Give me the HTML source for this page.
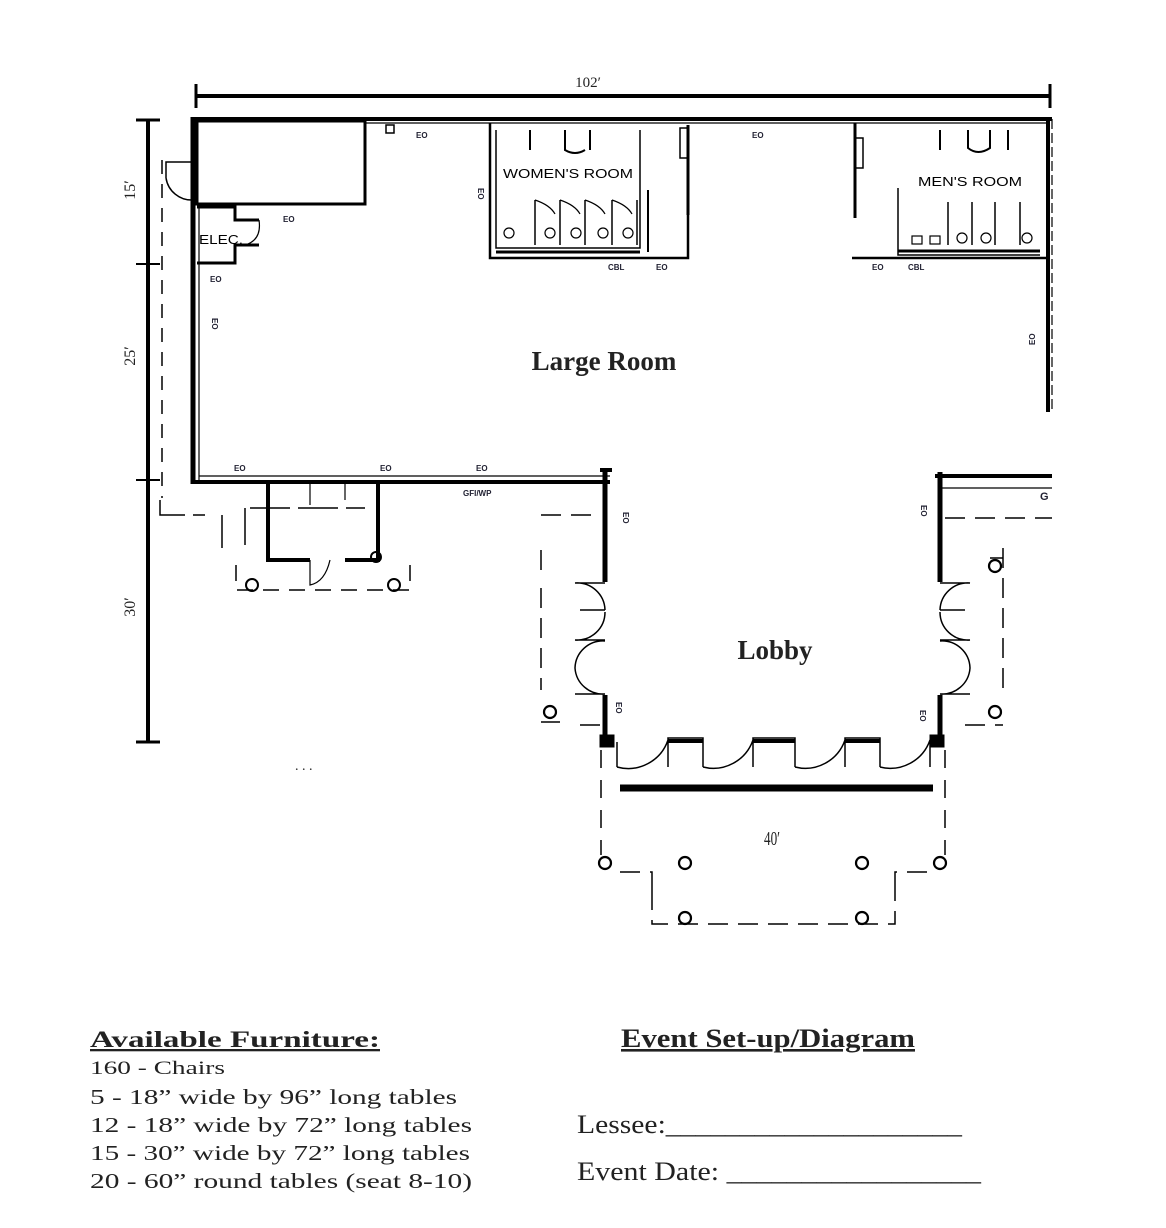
<!DOCTYPE html>
<html><head><meta charset="utf-8">
<style>
html,body{margin:0;padding:0;background:#fff;}
svg{display:block;}
.s{font-family:"Liberation Serif",serif;fill:#222;}
.l{font-family:"Liberation Sans",sans-serif;font-size:8px;font-weight:bold;fill:#223;}
.h{font-family:"Liberation Sans",sans-serif;font-size:13px;fill:#000;}
</style></head>
<body>
<svg width="1166" height="1228" viewBox="0 0 1166 1228" xmlns="http://www.w3.org/2000/svg">
<g stroke="#000" fill="none" stroke-linecap="butt">
<!-- top dimension -->
<line x1="196" y1="96" x2="1050" y2="96" stroke-width="4"/>
<line x1="196" y1="84" x2="196" y2="108" stroke-width="3"/>
<line x1="1050" y1="84" x2="1050" y2="108" stroke-width="3"/>
<!-- left dimension -->
<line x1="148" y1="120" x2="148" y2="742" stroke-width="4"/>
<line x1="136" y1="120" x2="160" y2="120" stroke-width="3"/>
<line x1="136" y1="264" x2="160" y2="264" stroke-width="2"/>
<line x1="136" y1="480" x2="160" y2="480" stroke-width="2"/>
<line x1="136" y1="742" x2="160" y2="742" stroke-width="3"/>
<line x1="162" y1="160" x2="162" y2="498" stroke-width="1.5" stroke-dasharray="14,10"/>
<!-- outer walls -->
<line x1="193" y1="119" x2="1052" y2="119" stroke-width="4"/>
<line x1="365" y1="123" x2="1050" y2="123" stroke-width="1.2"/>
<line x1="193" y1="117" x2="193" y2="484" stroke-width="5"/>
<rect x="197" y="121" width="168" height="83" stroke-width="3"/>
<path d="M193 162 H166 V178 M166 178 A26 26 0 0 0 193 200" stroke-width="1.5"/>
<!-- ELEC -->
<path d="M197 207 H235 V220 H259 M259 245 H235 V263 H197" stroke-width="3"/>
<path d="M259 220 Q262 240 245 245" stroke-width="1.2"/>
<line x1="199" y1="205" x2="199" y2="480" stroke-width="1.2"/>
<rect x="386" y="125" width="8" height="8" stroke-width="1.5"/>
<!-- Women's room -->
<path d="M490 123 V258 H688 V210" stroke-width="2.5"/>
<path d="M496 130 V248 H640 V130" stroke-width="1.5"/>
<line x1="496" y1="252" x2="640" y2="252" stroke-width="3"/>
<line x1="648" y1="190" x2="648" y2="252" stroke-width="2"/>
<path d="M688 125 V215" stroke-width="3"/>
<rect x="680" y="128" width="8" height="30" stroke-width="1.5"/>
<path d="M530 130 V150 M590 130 V150 M565 130 V150 Q575 156 585 150" stroke-width="2"/>
<path d="M535 200 V245 M560 200 V245 M585 200 V245 M612 200 V245 M637 200 V245" stroke-width="1.5"/>
<path d="M535 200 Q550 205 555 214 M560 200 Q575 205 580 214 M585 200 Q600 205 605 214 M612 200 Q627 205 632 214" stroke-width="1.2"/>
<g stroke-width="1.2"><circle cx="509" cy="233" r="5"/><circle cx="550" cy="233" r="5"/><circle cx="576" cy="233" r="5"/><circle cx="603" cy="233" r="5"/><circle cx="628" cy="233" r="5"/></g>
<!-- Men's room -->
<path d="M855 123 V218" stroke-width="3"/>
<rect x="855" y="138" width="8" height="30" stroke-width="1.5"/>
<path d="M852 258 H1048" stroke-width="2.5"/>
<path d="M898 188 V255 H1040" stroke-width="1.5"/>
<line x1="898" y1="251" x2="1040" y2="251" stroke-width="3"/>
<path d="M940 130 V150 M1008 130 V150 M968 130 V148 Q978 156 990 148 V130" stroke-width="2"/>
<path d="M948 202 V245 M972 202 V245 M995 202 V245 M1020 202 V245" stroke-width="1.5"/>
<g stroke-width="1.2"><circle cx="962" cy="238" r="5"/><circle cx="986" cy="238" r="5"/><circle cx="1027" cy="238" r="5"/><rect x="912" y="236" width="10" height="8"/><rect x="930" y="236" width="10" height="8"/></g>
<path d="M1048 119 V412" stroke-width="4" />
<path d="M1052 119 V412" stroke-width="1.2" stroke-dasharray="10,4"/>
<!-- bottom left wall -->
<line x1="193" y1="482" x2="610" y2="482" stroke-width="4"/>
<line x1="199" y1="476" x2="610" y2="476" stroke-width="1.2"/>
<path d="M268 482 V560 H310 M345 560 H378 V482" stroke-width="4"/>
<path d="M310 482 V505 M345 482 V500 M310 560 V585 Q325 582 330 560" stroke-width="1.2"/>
<circle cx="376" cy="557" r="5" stroke-width="2"/>
<path d="M160 500 V515 H205 M222 515 V548 M245 508 V545 M250 508 H365" stroke-width="1.5" stroke-dasharray="40,8"/>
<path d="M236 565 V590 H410 V565" stroke-width="1.5" stroke-dasharray="16,10"/>
<circle cx="252" cy="585" r="6" stroke-width="2"/><circle cx="394" cy="585" r="6" stroke-width="2"/>
<!-- lobby walls -->
<path d="M605 470 V582" stroke-width="5"/>
<path d="M605 695 V745" stroke-width="5"/>
<path d="M940 472 V582" stroke-width="5"/>
<path d="M940 695 V745" stroke-width="5"/>
<path d="M935 476 H1052" stroke-width="4"/>
<path d="M940 488 H1052" stroke-width="1.2"/>
<path d="M600 470 H612" stroke-width="4"/>
<!-- side doors -->
<path d="M605 583 H575 A28 28 0 0 1 605 610 M605 610 H580 M605 640 H575 A28 28 0 0 0 605 612 M605 641 A28 28 0 0 0 575 668 M575 668 A28 28 0 0 0 605 694 H575" stroke-width="1.5"/>
<path d="M940 583 H970 A28 28 0 0 0 940 610 M940 610 H965 M940 640 H970 A28 28 0 0 1 940 612 M940 641 A28 28 0 0 1 970 668 M970 668 A28 28 0 0 1 940 694 H970" stroke-width="1.5"/>
<!-- front doors -->
<path d="M617 767 V742 M617 767 A42 42 0 0 0 668 740 M668 767 V738 H703 V767 M703 767 A42 42 0 0 0 753 740 M753 767 V738 H795 V767 M795 767 A42 42 0 0 0 845 740 M845 767 V738 H880 V767 M880 767 A42 42 0 0 0 930 740 M930 767 V742" stroke-width="1.5"/>
<line x1="668" y1="741" x2="703" y2="741" stroke-width="4"/><line x1="753" y1="741" x2="795" y2="741" stroke-width="4"/><line x1="845" y1="741" x2="880" y2="741" stroke-width="4"/>
<rect x="600" y="735" width="14" height="12" fill="#000"/><rect x="930" y="735" width="14" height="12" fill="#000"/>
<line x1="620" y1="788" x2="933" y2="788" stroke-width="7"/>
<!-- dashed outside -->
<path d="M541 515 H600 M541 550 V580 M541 588 V690 M541 722 H560 M580 725 H600" stroke-width="1.5" stroke-dasharray="20,10"/>
<path d="M945 518 H1052 M1003 548 V690 M990 558 H1003 M965 725 H1003" stroke-width="1.5" stroke-dasharray="20,10"/>
<path d="M601 750 V855 M945 750 V855" stroke-width="1.5" stroke-dasharray="18,12"/>
<path d="M620 872 H652 V890 M652 890 V924 H895 V890 M895 890 V872 H928" stroke-width="1.5" stroke-dasharray="20,10"/>
<g stroke-width="2.2"><circle cx="605" cy="863" r="6"/><circle cx="685" cy="863" r="6"/><circle cx="862" cy="863" r="6"/><circle cx="940" cy="863" r="6"/><circle cx="685" cy="918" r="6"/><circle cx="862" cy="918" r="6"/><circle cx="995" cy="566" r="6"/><circle cx="550" cy="712" r="6"/><circle cx="995" cy="712" r="6"/></g>
</g>
<!-- labels -->
<text class="s" x="588" y="87" font-size="15" text-anchor="middle">102′</text>
<text class="s" font-size="16" transform="translate(135,190) rotate(-90)" text-anchor="middle">15′</text>
<text class="s" font-size="16" transform="translate(135,356) rotate(-90)" text-anchor="middle">25′</text>
<text class="s" font-size="16" transform="translate(135,607) rotate(-90)" text-anchor="middle">30′</text>
<text class="h" x="503" y="178" font-size="13" textLength="130" lengthAdjust="spacingAndGlyphs">WOMEN'S ROOM</text>
<text class="h" x="918" y="186" font-size="13" textLength="104" lengthAdjust="spacingAndGlyphs">MEN'S ROOM</text>
<text class="h" x="199" y="244" font-size="13" textLength="44" lengthAdjust="spacingAndGlyphs">ELEC.</text>
<g class="l">
<text x="416" y="138">EO</text><text x="283" y="222">EO</text><text x="210" y="282">EO</text>
<text x="752" y="138">EO</text><text x="608" y="270">CBL</text><text x="656" y="270">EO</text>
<text x="872" y="270">EO</text><text x="908" y="270">CBL</text>
<text x="234" y="471">EO</text><text x="380" y="471">EO</text><text x="476" y="471">EO</text><text x="463" y="496">GFI/WP</text>
<text transform="translate(212,318) rotate(90)">EO</text>
<text transform="translate(478,188) rotate(90)">EO</text>
<text transform="translate(1035,345) rotate(-90)">EO</text>
<text transform="translate(623,512) rotate(90)">EO</text>
<text transform="translate(921,505) rotate(90)">EO</text>
<text transform="translate(616,702) rotate(90)">EO</text>
<text transform="translate(920,710) rotate(90)">EO</text>
<text x="1040" y="500" font-size="11">G</text>
</g>
<text class="s" x="604" y="370" font-size="27" font-weight="bold" text-anchor="middle">Large Room</text>
<text class="s" x="775" y="659" font-size="27" font-weight="bold" text-anchor="middle">Lobby</text>
<text class="s" x="772" y="845" font-size="20" text-anchor="middle" textLength="16" lengthAdjust="spacingAndGlyphs">40′</text>
<text class="s" x="295" y="770" font-size="14">. . .</text>
<!-- bottom text -->
<text class="s" x="90" y="1047" font-size="23" font-weight="bold" text-decoration="underline" textLength="290" lengthAdjust="spacingAndGlyphs">Available Furniture:</text>
<text class="s" x="90" y="1074" font-size="19" textLength="135" lengthAdjust="spacingAndGlyphs">160 - Chairs</text>
<text class="s" x="90" y="1104" font-size="21" textLength="367" lengthAdjust="spacingAndGlyphs">5 - 18” wide by 96” long tables</text>
<text class="s" x="90" y="1132" font-size="21" textLength="382" lengthAdjust="spacingAndGlyphs">12 - 18” wide by 72” long tables</text>
<text class="s" x="90" y="1160" font-size="21" textLength="380" lengthAdjust="spacingAndGlyphs">15 - 30” wide by 72” long tables</text>
<text class="s" x="90" y="1188" font-size="21" textLength="382" lengthAdjust="spacingAndGlyphs">20 - 60” round tables (seat 8-10)</text>
<text class="s" x="621" y="1047" font-size="26" font-weight="bold" text-decoration="underline" textLength="294" lengthAdjust="spacingAndGlyphs">Event Set-up/Diagram</text>
<text class="s" x="577" y="1133" font-size="26" textLength="385" lengthAdjust="spacingAndGlyphs">Lessee:____________________</text>
<text class="s" x="577" y="1180" font-size="26" textLength="404" lengthAdjust="spacingAndGlyphs">Event Date: _________________</text>
</svg>
</body></html>
